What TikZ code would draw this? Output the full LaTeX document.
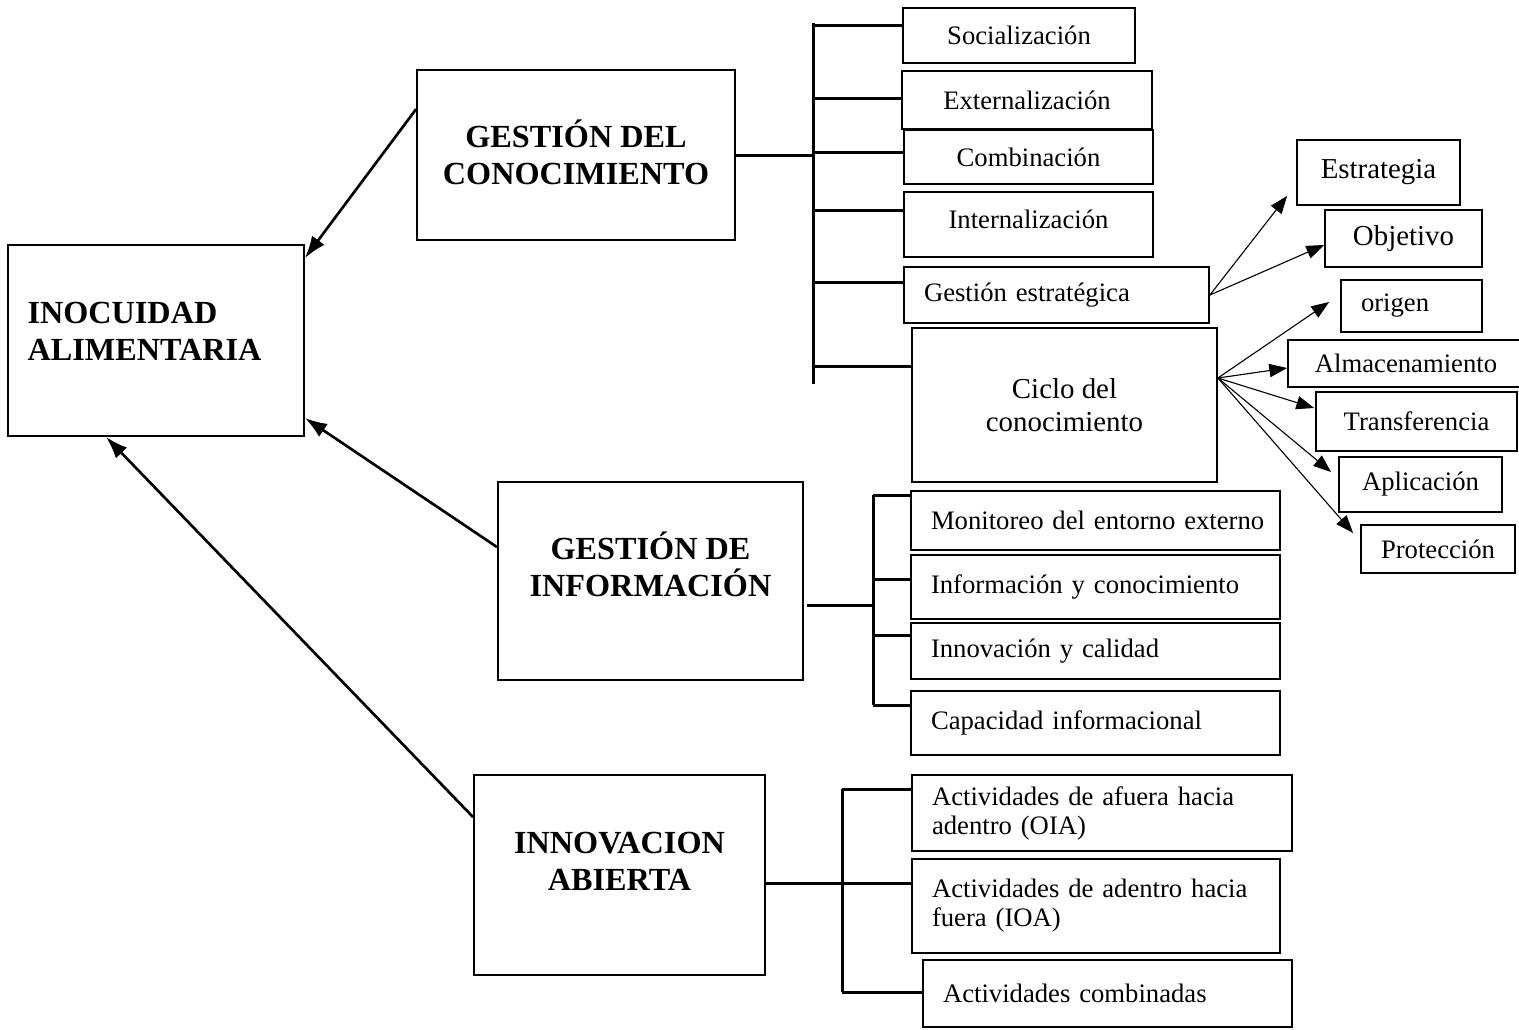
\documentclass[tikz,border=0pt]{standalone}
\usepackage{fontspec}
\setmainfont{Liberation Serif}
\usepackage{tikz}
\usetikzlibrary{arrows.meta}

\newcommand{\upx}{0.45pt}

\tikzset{
  medida/.style 2 args={minimum width=#1*\upx, minimum height=#2*\upx},
  caja/.style={draw, line width=0.8pt, inner sep=0pt, font=\fontsize{12}{13}\selectfont},
  izq/.style={align=left, inner xsep=0pt, text width=#1*\upx, execute at begin node={\leftskip=9pt}},
  titulo/.style={caja},
  rotulo/.style={font=\fontsize{14.5}{16.6}\selectfont\bfseries, align=center, inner sep=0pt},
  rama/.style={line width=1.35pt},
  flecha/.style={-{Latex[length=10pt,width=7pt]}, line width=1.2pt},
  flechita/.style={-{Triangle[length=8pt,width=6pt]}, line width=0.5pt}
}

\begin{document}
\begin{tikzpicture}[x=\upx, y=-\upx]
  \useasboundingbox (0,0) rectangle (1519,1029);

  % bloques principales
  \node[titulo, medida={296}{191}, label={[rotulo, align=left, anchor=west, xshift=9pt, yshift=4pt]west:INOCUIDAD\\ALIMENTARIA}] (ino) at (156,340.5) {};
  \node[titulo, medida={318}{170}, label={[rotulo, yshift=1.35pt]center:GESTIÓN DEL\\CONOCIMIENTO}] (gc) at (576,155) {};
  \node[titulo, medida={305}{198}, label={[rotulo, yshift=7.65pt]center:GESTIÓN DE\\INFORMACIÓN}] (gi) at (650.5,581) {};
  \node[titulo, medida={291}{200}, label={[rotulo, yshift=6.3pt]center:INNOVACION\\ABIERTA}] (ia) at (619.5,875) {};

  \draw[flecha] ([shift={(0,40)}]gc.north west) -- ([shift={(0,14)}]ino.north east);
  \draw[flecha] ([shift={(0,66)}]gi.north west) -- ([shift={(0,-19)}]ino.south east);
  \draw[flecha] ([shift={(0,43)}]ia.north west) -- ([shift={(-50,0)}]ino.south);

  % gestion del conocimiento
  \node[caja, medida={232}{55}] (soc) at (1019,35.5) {Socialización};
  \node[caja, medida={250}{58}] (ext) at (1027,100) {Externalización};
  \node[caja, medida={249}{54}] (comb) at (1028.5,157) {Combinación};
  \node[caja, text depth=4.5pt, medida={249}{65}] (int) at (1028.5,224.5) {Internalización};
  \node[caja, izq=305, medida={305}{56}] (ge) at (1056.5,295) {Gestión estratégica};
  \node[caja, align=center, font=\fontsize{13}{15}\selectfont, medida={305}{154}] (ciclo) at (1064.5,405) {Ciclo del\\conocimiento};

  \coordinate (gcA) at (813,23);
  \coordinate (gcB) at (813,384);
  \draw[rama] (gcA) -- (gcB);
  \draw[rama] (gc.east) -- (gc.east -| gcA);
  \foreach \n/\d in {soc/10.5,ext/2,comb/5,int/14.5,ge/13,ciclo/39}{
    \coordinate (p) at ([shift={(0,-\d)}]\n.west);
    \draw[rama] (p) -- (p -| gcA);
  }

  \node[caja, font=\fontsize{13}{15}\selectfont, medida={163}{65}] (est) at (1378.5,172.5) {Estrategia};
  \node[caja, font=\fontsize{13}{15}\selectfont, medida={157}{57}] (obj) at (1403.5,238.5) {Objetivo};
  \node[caja, izq=141, medida={141}{52}] (ori) at (1411.5,306) {origen};
  \node[caja, medida={236}{47}] (alm) at (1406,363.5) {Almacenamiento};
  \node[caja, medida={201}{59}] (tra) at (1416.5,421.5) {Transferencia};
  \node[caja, medida={163}{55}] (apl) at (1420.5,484.5) {Aplicación};
  \node[caja, medida={154}{48}] (pro) at (1438,549) {Protección};

  \draw[flechita] (ge.east) -- ([shift={(-9,-10)}]est.south west);
  \draw[flechita] (ge.east) -- ([shift={(0,6.5)}]obj.west);
  \foreach \n/\dx/\dy in {ori/-11/-4,alm/0/4.5,tra/-1/-13.5,apl/-7/-12.5,pro/-7/-16}
    \draw[flechita] ([shift={(0,-27)}]ciclo.east) -- ([shift={(\dx,\dy)}]\n.west);

  % gestion de informacion
  \node[caja, izq=369, medida={369}{59}] (mon) at (1095.5,520.5) {Monitoreo del entorno externo};
  \node[caja, izq=369, medida={369}{64}] (inf) at (1095.5,587) {Información y conocimiento};
  \node[caja, izq=369, medida={369}{56}] (inn) at (1095.5,651) {Innovación y calidad};
  \node[caja, izq=369, medida={369}{64}] (cap) at (1095.5,723) {Capacidad informacional};

  \coordinate (giA) at (873,495);
  \coordinate (giB) at (873,705);
  \draw[rama] (giA) -- (giB);
  \draw[rama] ([shift={(3,24)}]gi.east) coordinate (q) -- (q -| giA);
  \foreach \n/\d in {mon/25.5,inf/8,inn/16,cap/18}{
    \coordinate (p) at ([shift={(0,-\d)}]\n.west);
    \draw[rama] (p) -- (p -| giA);
  }

  % innovacion abierta
  \node[caja, izq=380, medida={380}{76}] (oia) at (1102,813) {Actividades de afuera hacia\\adentro (OIA)};
  \node[caja, izq=368, medida={368}{94}] (ioa) at (1096,906) {Actividades de adentro hacia\\fuera (IOA)};
  \node[caja, izq=369, medida={369}{67}] (acm) at (1107.5,993.5) {Actividades combinadas};

  \coordinate (iaA) at (842,789);
  \coordinate (iaB) at (842,992);
  \draw[rama] (iaA) -- (iaB);
  \draw[rama] ([shift={(0,8)}]ia.east) coordinate (r) -- (r -| iaA);
  \foreach \n/\d in {oia/24,ioa/23,acm/1.5}{
    \coordinate (p) at ([shift={(0,-\d)}]\n.west);
    \draw[rama] (p) -- (p -| iaA);
  }
\end{tikzpicture}
\end{document}
